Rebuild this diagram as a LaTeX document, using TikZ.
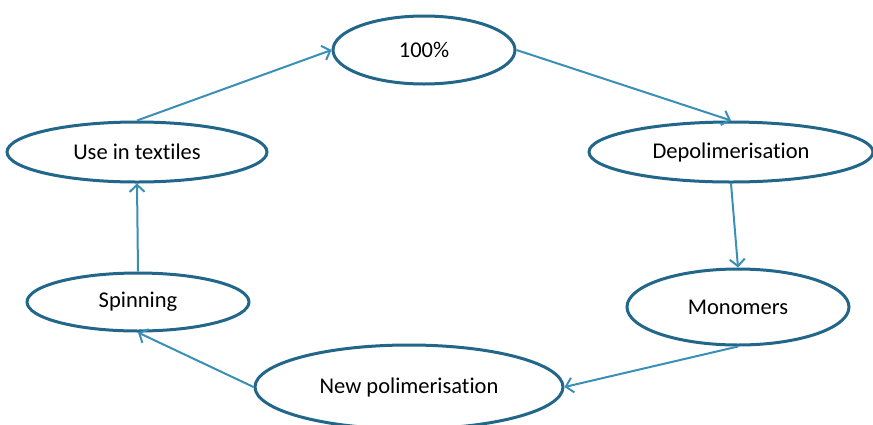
\documentclass[tikz,border=0pt]{standalone}
\usepackage{fontspec}
\setmainfont[Ligatures={NoCommon,NoRare,NoDiscretionary}]{Carlito}
\usetikzlibrary{shapes.geometric,arrows.meta}
\definecolor{ellc}{HTML}{22668A}
\definecolor{arrc}{HTML}{3A8FB7}
\begin{document}
\begin{tikzpicture}[x=1pt,y=-1pt,
  cyc/.style={ellipse,draw=ellc,line width=3pt,fill=white,inner sep=0pt,
    font=\fontsize{22.5}{26}\selectfont},
  conn/.style={draw=arrc,line width=2pt,-{Straight Barb[length=7pt,width=15pt,line width=2pt]}}]
\useasboundingbox (0,0) rectangle (873,424);
\node[cyc,minimum width=182pt,minimum height=68pt] (full) at (424,50) {100\%};
\node[cyc,minimum width=260pt,minimum height=60pt] (use) at (137,152) {Use in textiles};
\node[cyc,minimum width=284pt,minimum height=60pt] (depol) at (731,152) {Depolimerisation};
\node[cyc,minimum width=222pt,minimum height=58pt] (spin) at (138,302) {Spinning};
\node[cyc,minimum width=222pt,minimum height=76pt] (mono) at (738,307) {Monomers};
\node[cyc,minimum width=308pt,minimum height=84pt] (newpol) at (409,387) {New polimerisation};
\draw[conn] (use.north) -- (full.west);
\draw[conn] (full.east) -- (depol.north);
\draw[conn] (depol.south) -- (mono.north);
\draw[conn] (mono.south) -- (newpol.east);
\draw[conn] (newpol.west) -- (spin.south);
\draw[conn] (spin.north) -- (use.south);
\end{tikzpicture}
\end{document}
